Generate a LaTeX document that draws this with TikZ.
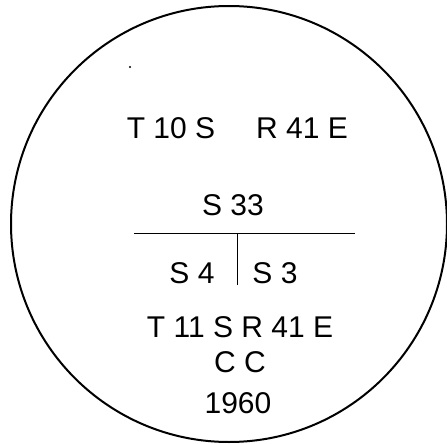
\documentclass[tikz,border=0pt]{standalone}
\usepackage{fontspec}
\setmainfont{Liberation Sans}
\usepackage{tikz}

\begin{document}
\begin{tikzpicture}[x=1pt,y=-1pt,font=\fontsize{30}{36}\selectfont]
\tikzstyle{lbl}=[inner sep=0pt,anchor=base]
\tikzstyle{rule}=[line width=0.9pt]
\useasboundingbox (0,0) rectangle (447,444);

\draw[line width=2pt] (229,224) circle (218);
\fill (130,67) circle (1.2);

\node[lbl] (twp10) at (171,138) {T 10 S};
\node[lbl] (rng41) at (302,138) {R 41 E};
\node[lbl] (sec33) at (233,215) {S 33};

\coordinate (ruleW) at (134,233);
\coordinate (ruleE) at (355,233);
\coordinate (ruleM) at (237,233);
\coordinate (ruleB) at (237,285);
\draw[rule] (ruleW) -- (ruleE);
\draw[rule] (ruleM) -- (ruleB);

\node[lbl] (sec4) at (192,283) {S 4};
\node[lbl] (sec3) at (275,283) {S 3};
\node[lbl] (twp11) at (240,337) {T 11 S R 41 E};
\node[lbl] (cc) at (240,372) {C C};
\node[lbl] (year) at (238,413) {1960};
\end{tikzpicture}
\end{document}
